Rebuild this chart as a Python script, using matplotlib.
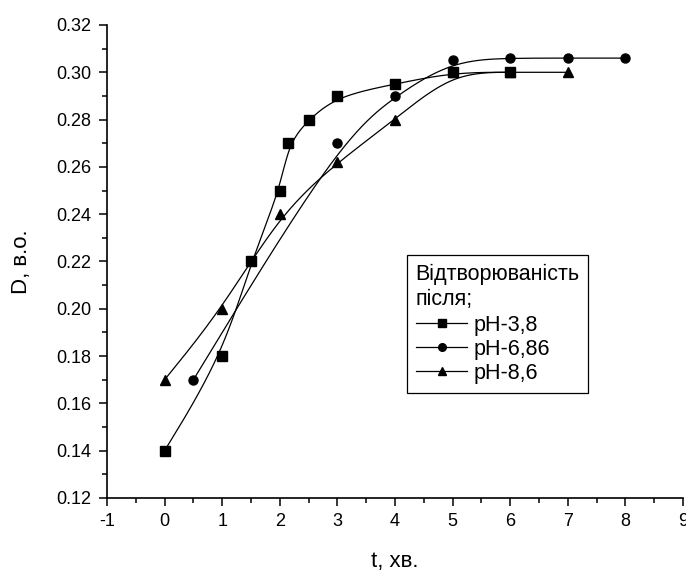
import numpy as np
import matplotlib.pyplot as plt
from matplotlib.ticker import MultipleLocator

plt.rcParams['font.family'] = ['Liberation Sans', 'DejaVu Sans']
plt.rcParams['axes.unicode_minus'] = False

# pH-3,8
t1 = [0, 1, 1.5, 2, 2.15, 2.5, 3, 4, 5, 6]
d1 = [0.14, 0.18, 0.22, 0.25, 0.27, 0.28, 0.29, 0.295, 0.30, 0.30]
# pH-6,86
t2 = [0.5, 3, 4, 5, 6, 7, 8]
d2 = [0.17, 0.27, 0.29, 0.305, 0.306, 0.306, 0.306]
# pH-8,6
t3 = [0, 1, 2, 3, 4, 5, 6, 7]
d3 = [0.17, 0.20, 0.24, 0.262, 0.28, 0.30, 0.30, 0.30]


def bspline(x, y, n=40):
    # uniform cubic B-spline, ends clamped by repeating end points
    P = np.column_stack([x, y])
    P = np.vstack([P[0], P[0], P, P[-1], P[-1]])
    out = []
    u = np.linspace(0, 1, n)
    for i in range(len(P) - 3):
        p0, p1, p2, p3 = P[i:i + 4]
        b0 = (1 - u) ** 3 / 6
        b1 = (3 * u ** 3 - 6 * u ** 2 + 4) / 6
        b2 = (-3 * u ** 3 + 3 * u ** 2 + 3 * u + 1) / 6
        b3 = u ** 3 / 6
        seg = np.outer(b0, p0) + np.outer(b1, p1) + np.outer(b2, p2) + np.outer(b3, p3)
        out.append(seg)
    c = np.vstack(out)
    return c[:, 0], c[:, 1]


fig = plt.figure(figsize=(6.86, 5.72), dpi=100)
ax = fig.add_axes([0.156, 0.1294, 0.8396, 0.8269])

for t, d, m, ms, lab in [(t1, d1, 's', 6.5, 'pH-3,8'), (t2, d2, 'o', 6.5, 'pH-6,86'),
                         (t3, d3, '^', 7, 'pH-8,6')]:
    cx, cy = bspline(t, d)
    ax.plot(cx, cy, color='black', lw=0.9)
    ax.plot(t, d, m, color='black', ms=ms, ls='none')
    ax.plot([], [], color='black', lw=0.9, marker=m, ms=5.5, label=lab)

ax.set_xlim(-1, 9)
ax.set_ylim(0.12, 0.32)
ax.xaxis.set_major_locator(MultipleLocator(1))
ax.xaxis.set_minor_locator(MultipleLocator(0.5))
ax.yaxis.set_major_locator(MultipleLocator(0.02))
ax.yaxis.set_minor_locator(MultipleLocator(0.01))
ax.yaxis.set_major_formatter(plt.FormatStrFormatter('%.2f'))
ax.spines['top'].set_visible(False)
ax.spines['right'].set_visible(False)
for s in ['left', 'bottom']:
    ax.spines[s].set_linewidth(1.2)
ax.tick_params(which='major', direction='out', length=6, width=1.1, labelsize=13, pad=5)
ax.tick_params(which='minor', direction='out', length=3.5, width=1.1)

ax.set_xlabel('t, хв.', fontsize=16, labelpad=15)
ax.set_ylabel('D, в.о.', fontsize=16, labelpad=18)

leg = ax.legend(title='Відтворюваність\nпісля;', loc='upper left',
                bbox_to_anchor=(0.521, 0.514), fontsize=15.5, title_fontsize=15.5,
                alignment='left', handlelength=2.4, handletextpad=0.3,
                borderpad=0.4, labelspacing=0.15, borderaxespad=0,
                fancybox=False, framealpha=1)
leg.get_frame().set_edgecolor('black')
leg.get_frame().set_linewidth(0.9)
leg._legend_box.sep = 3
leg.get_title().set_linespacing(1.3)

fig.savefig('out.png', dpi=100)
